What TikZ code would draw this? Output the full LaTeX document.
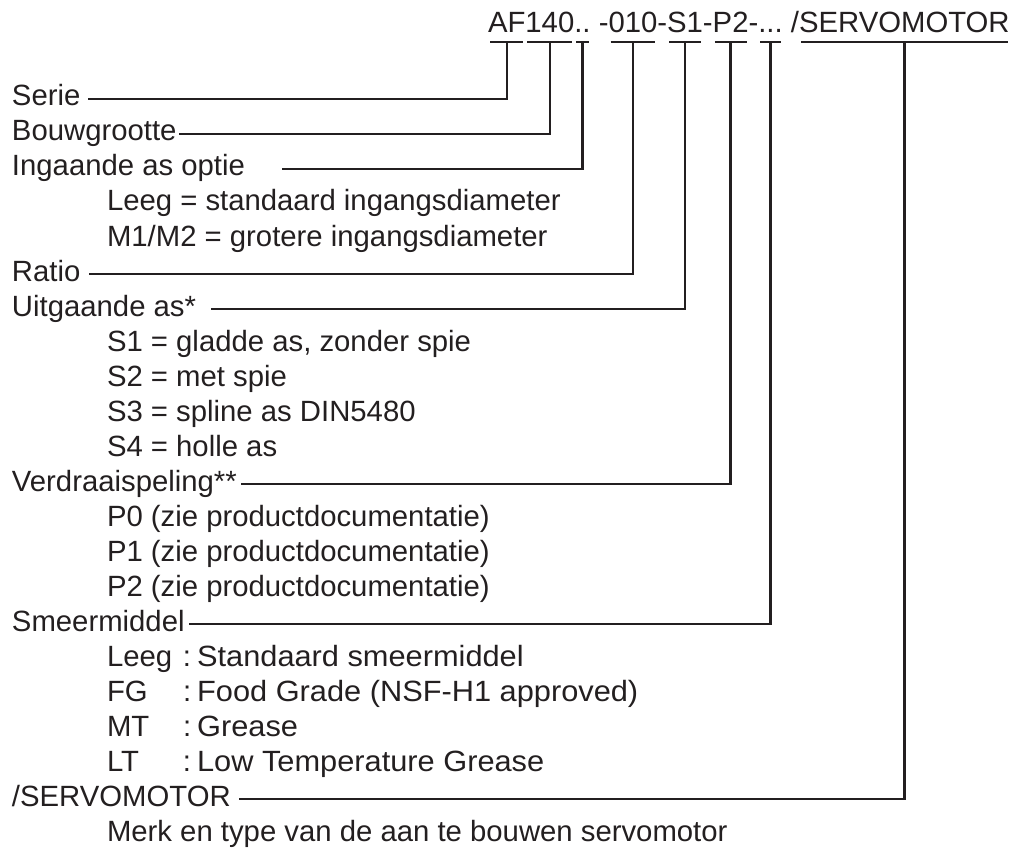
\documentclass[tikz,border=0pt]{standalone}
\usepackage{fontspec}
\setmainfont{Liberation Sans}
\usepackage{xcolor}
\usetikzlibrary{positioning}

\definecolor{ink}{RGB}{35,31,32}

\tikzset{
 code/.style={inner sep=0pt, outer sep=0pt, text height=14pt, text depth=9pt},
 lbl/.style={anchor=base west, inner sep=0pt, outer sep=0pt, text height=14pt, text depth=0pt},
 uline/.style={shorten <=2pt, shorten >=2pt},
}
\newcommand{\lube}[2]{\makebox[76pt][l]{#1}:\hspace{6pt}\scalebox{1.05}[1]{#2}}

\begin{document}
\begin{tikzpicture}[x=1pt,y=-1pt,line width=2.4pt,draw=ink,text=ink,
 font=\fontsize{29.3}{35}\selectfont]
 \useasboundingbox (0,0) rectangle (1026,848);

 % type code
 \node[code,anchor=base west] (af) at (488,33) {AF};
 \node[code,base right=0pt of af] (size) {140};
 \node[code,base right=0pt of size] (inopt) {..};
 \node[code,base right=0pt of inopt] (d1) {\ -};
 \node[code,base right=0pt of d1] (ratio) {010};
 \node[code,base right=0pt of ratio] (d2) {-};
 \node[code,base right=0pt of d2] (shaft) {S1};
 \node[code,base right=0pt of shaft] (d3) {-};
 \node[code,base right=0pt of d3] (play) {P2};
 \node[code,base right=0pt of play] (d4) {-};
 \node[code,base right=0pt of d4] (lube) {...};
 \node[code,base right=0pt of lube] (d5) {\ /};
 \node[code,base right=0pt of d5] (motor) {SERVOMOTOR};

 \draw[uline] (af.south west) -- (af.south east);
 \draw[uline] (size.south west) -- (size.south east);
 \draw[uline] (inopt.south west) -- (inopt.south east);
 \draw[uline] (ratio.south west) -- (ratio.south east);
 \draw[uline] (shaft.south west) -- (shaft.south east);
 \draw[uline] (play.south west) -- (play.south east);
 \draw[uline] (lube.south west) -- (lube.south east);
 \draw[uline] (motor.south west) -- (motor.south east);

 % labels
 \node[lbl] (serie) at (12,106) {Serie};
 \node[lbl] (bouw) at (12,141) {Bouwgrootte};
 \node[lbl] (ingaande) at (12,176) {Ingaande as optie};
 \node[lbl] (in1) at (107,211) {Leeg = standaard ingangsdiameter};
 \node[lbl] (in2) at (107,246) {M1/M2 = grotere ingangsdiameter};
 \node[lbl] (ratiolbl) at (12,281) {Ratio};
 \node[lbl] (uitgaande) at (12,316) {Uitgaande as*};
 \node[lbl] (s1) at (107,351) {S1 = gladde as, zonder spie};
 \node[lbl] (s2) at (107,386) {S2 = met spie};
 \node[lbl] (s3) at (107,421) {S3 = spline as DIN5480};
 \node[lbl] (s4) at (107,456) {S4 = holle as};
 \node[lbl] (verdraai) at (12,491) {Verdraaispeling**};
 \node[lbl] (p0) at (107,526) {P0 (zie productdocumentatie)};
 \node[lbl] (p1) at (107,561) {P1 (zie productdocumentatie)};
 \node[lbl] (p2) at (107,596) {P2 (zie productdocumentatie)};
 \node[lbl] (smeer) at (12,631) {Smeermiddel};
 \node[lbl] (g1) at (107,666) {\lube{Leeg}{Standaard smeermiddel}};
 \node[lbl] (g2) at (107,701) {\lube{FG}{Food Grade (NSF-H1 approved)}};
 \node[lbl] (g3) at (107,736) {\lube{MT}{Grease}};
 \node[lbl] (g4) at (107,771) {\lube{LT}{Low Temperature Grease}};
 \node[lbl] (servo) at (12,806) {/SERVOMOTOR};
 \node[lbl] (merk) at (107,841) {Merk en type van de aan te bouwen servomotor};

 % connectors
 \draw (af.south) |- ([xshift=8]serie.east);
 \draw (size.south) |- ([xshift=2]bouw.east);
 \draw (inopt.south) |- ([xshift=37]ingaande.east);
 \draw (ratio.south) |- ([xshift=9]ratiolbl.east);
 \draw (shaft.south) |- ([xshift=15]uitgaande.east);
 \draw (play.south) |- ([xshift=4]verdraai.east);
 \draw (lube.south) |- ([xshift=4]smeer.east);
 \draw (motor.south) |- ([xshift=8]servo.east);
\end{tikzpicture}
\end{document}
